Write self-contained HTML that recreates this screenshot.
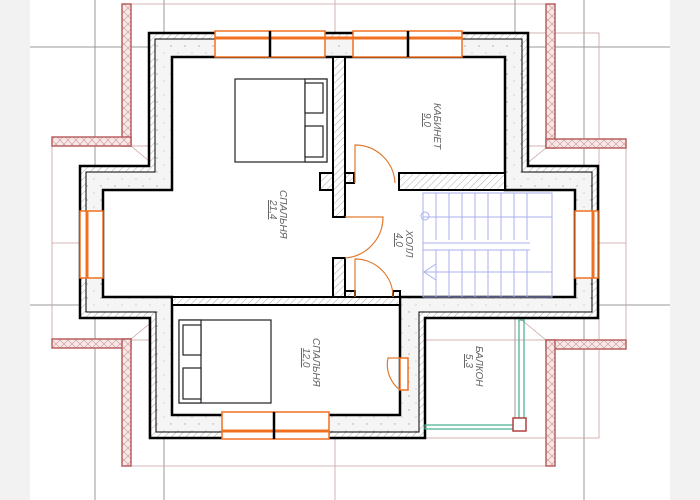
<!DOCTYPE html>
<html><head><meta charset="utf-8"><style>
html,body{margin:0;padding:0;background:#fff}
svg{display:block}
text{font-family:"Liberation Sans",sans-serif;font-style:italic;fill:#666;font-size:10px}
</style></head><body>
<svg width="700" height="500" viewBox="0 0 700 500" xmlns="http://www.w3.org/2000/svg">
<defs>
<pattern id="h" width="5" height="5" patternUnits="userSpaceOnUse" patternTransform="rotate(45)">
<rect width="5" height="5" fill="#fff"/><line x1="0" y1="0" x2="0" y2="5" stroke="#888" stroke-width="0.7"/></pattern>
<pattern id="x" width="8" height="8" patternUnits="userSpaceOnUse">
<rect width="8" height="8" fill="#f6e8e8"/><path d="M0 0L8 8M8 0L0 8" stroke="#d09090" stroke-width="0.6"/></pattern>
<pattern id="d" width="14" height="14" patternUnits="userSpaceOnUse">
<rect width="14" height="14" fill="#f5f5f5"/><circle cx="3" cy="4" r="0.7" fill="#aaa"/><circle cx="10" cy="11" r="0.6" fill="#bbb"/></pattern>
</defs>
<rect x="0" y="0" width="30" height="500" fill="#f2f2f2"/>
<rect x="670" y="0" width="30" height="500" fill="#f2f2f2"/>

<g stroke="#999" stroke-width="1">
<line x1="30" y1="47" x2="670" y2="47"/>
<line x1="30" y1="305" x2="670" y2="305"/>
<line x1="95" y1="0" x2="95" y2="500"/>
<line x1="164" y1="0" x2="164" y2="500"/>
<line x1="515" y1="0" x2="515" y2="430"/>
<line x1="584" y1="0" x2="584" y2="500"/>
</g>
<g stroke="#c9a0a0" stroke-width="0.8" fill="none">
<line x1="131" y1="4" x2="546" y2="4"/>
<rect x="52" y="146" width="574" height="194"/>
<line x1="131" y1="466" x2="546" y2="466"/>
<rect x="149" y="33" width="450" height="405"/>
<line x1="131" y1="146" x2="248" y2="243"/>
<line x1="248" y1="243" x2="131" y2="339"/>
<line x1="52" y1="243" x2="248" y2="243"/>
<line x1="546" y1="148" x2="428" y2="243"/>
<line x1="428" y1="243" x2="546" y2="340"/>
<line x1="428" y1="243" x2="626" y2="243"/>
<line x1="335" y1="0" x2="335" y2="500"/>
</g>

<g fill="url(#x)" stroke="#b86060" stroke-width="1.5">
<rect x="122" y="4" width="9" height="142"/><rect x="52" y="137" width="79" height="9"/>
<rect x="546" y="4" width="9" height="144"/><rect x="546" y="139" width="80" height="9"/>
<rect x="52" y="339" width="79" height="9"/><rect x="122" y="339" width="9" height="127"/>
<rect x="546" y="340" width="80" height="9"/><rect x="546" y="340" width="9" height="126"/>
</g>

<path d="M149 33H528V166H598V318H425V438H150V318H80V166H149Z" fill="url(#h)" stroke="#000" stroke-width="2.5"/>
<path d="M155 39H522V172H592V312H419V432H156V312H86V172H155Z" fill="url(#d)" stroke="#000" stroke-width="1"/>
<path d="M172 57H505V190H575V297H400V415H172V297H103V190H172Z" fill="#fff" stroke="#000" stroke-width="2.5"/>

<g fill="url(#h)" stroke="#000" stroke-width="2">
<rect x="333" y="57" width="12" height="160"/>
<rect x="333" y="258" width="12" height="39"/>
<rect x="320" y="173" width="13" height="17"/>
<rect x="345" y="173" width="9" height="10"/>
<rect x="399" y="173" width="106" height="17"/>
<rect x="172" y="297" width="228" height="8"/>
<rect x="345" y="291" width="10" height="6"/>
<rect x="393" y="291" width="7" height="6"/>
</g>

<g fill="#fff" stroke="#f07020" stroke-width="1.5">
<rect x="215" y="31" width="55" height="26"/><rect x="270" y="31" width="55" height="26"/>
<rect x="353" y="31" width="55" height="26"/><rect x="408" y="31" width="54" height="26"/>
<rect x="222" y="412" width="52" height="27"/><rect x="274" y="412" width="55" height="27"/>
<rect x="80" y="211" width="23" height="67"/>
<rect x="575" y="211" width="23" height="67"/>
<rect x="400" y="358" width="8" height="32"/>
</g>
<g stroke="#f07020" stroke-width="3">
<line x1="215" y1="38" x2="462" y2="38"/>
<line x1="222" y1="431" x2="329" y2="431"/>
<line x1="87" y1="211" x2="87" y2="278"/>
<line x1="593" y1="211" x2="593" y2="278"/>
</g>
<g stroke="#000" stroke-width="2.5"><line x1="270" y1="31" x2="270" y2="57"/><line x1="408" y1="31" x2="408" y2="57"/><line x1="274" y1="412" x2="274" y2="439"/></g>

<g fill="none" stroke="#e07a30" stroke-width="1.2">
<path d="M355 183V145A40 40 0 0 1 395 183"/>
<path d="M345 217H383A41 41 0 0 1 345 258"/>
<path d="M355 297V259A38 38 0 0 1 393 297"/>
<path d="M400 358H388A32 32 0 0 0 400 390"/>
</g>

<g stroke="#aab0ee" stroke-width="1" fill="none">
<rect x="423" y="193" width="129" height="104"/>
<rect x="423" y="217" width="129" height="55"/>
<line x1="423" y1="243" x2="530" y2="243"/>
<line x1="423" y1="250" x2="530" y2="250"/>
<path d="M436 193V240M449 193V240M462 193V240M475 193V240M488 193V240M501 193V240M514 193V240M527 193V240"/>
<path d="M436 250V297M449 250V297M462 250V297M475 250V297M488 250V297M501 250V297M514 250V297M527 250V297"/>
<circle cx="425" cy="216" r="4"/>
<path d="M436 264L424 272L436 280"/>
</g>

<g stroke="#40b090" stroke-width="1.2" fill="none">
<rect x="519" y="320" width="5" height="100"/>
<rect x="425" y="425" width="92" height="4"/>
</g>
<rect x="513" y="418" width="13" height="13" fill="#fff" stroke="#b04040" stroke-width="1.5"/>

<g fill="#fff" stroke="#222" stroke-width="1.2">
<rect x="235" y="79" width="92" height="83"/><rect x="305" y="79" width="22" height="83"/>
<rect x="305" y="83" width="18" height="30"/><rect x="305" y="126" width="18" height="31"/>
<rect x="179" y="320" width="92" height="83"/><rect x="179" y="320" width="22" height="83"/>
<rect x="183" y="325" width="18" height="30"/><rect x="183" y="368" width="18" height="31"/>
</g>

<g transform="translate(280,190) rotate(90)"><text x="0" y="0">СПАЛЬНЯ</text><text x="10" y="10" style="text-decoration:underline">21,4</text></g>
<g transform="translate(434,103) rotate(90)"><text x="0" y="0">КАБИНЕТ</text><text x="10" y="10" style="text-decoration:underline">9,0</text></g>
<g transform="translate(406,230) rotate(90)"><text x="0" y="0">ХОЛЛ</text><text x="3" y="10" style="text-decoration:underline">4,0</text></g>
<g transform="translate(476,346) rotate(90)"><text x="0" y="0">БАЛКОН</text><text x="8" y="10" style="text-decoration:underline">5,3</text></g>
<g transform="translate(313,338) rotate(90)"><text x="0" y="0">СПАЛЬНЯ</text><text x="10" y="10" style="text-decoration:underline">12,0</text></g>
</svg>
</body></html>
